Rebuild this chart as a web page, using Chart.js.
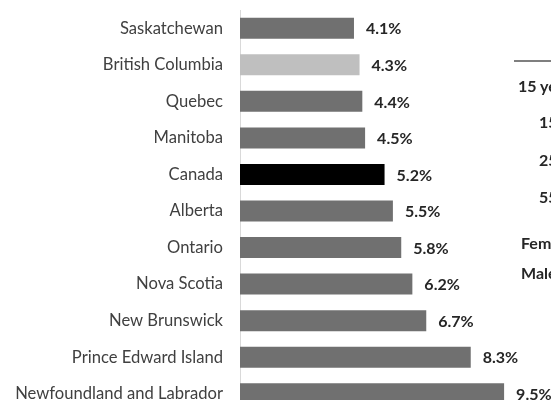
<!DOCTYPE html>
<html>
<head>
<meta charset="utf-8">
<script src="https://cdn.jsdelivr.net/npm/chart.js@4"></script>
<style>
  html, body { margin: 0; padding: 0; background: #fff; overflow: hidden; width: 551px; height: 400px; }
  #wrap { position: absolute; left: 0; top: 0; width: 551px; height: 430px; }
  .side { position: absolute; white-space: nowrap; font-family: Lato, sans-serif; font-weight: bold; font-size: 16px; line-height: 18px; color: #262626; }
  #rule { position: absolute; left: 514px; top: 60px; width: 40px; height: 0; border-top: 2px solid #7f7f7f; }
</style>
</head>
<body>
<div id="wrap"><canvas id="c" width="551" height="430"></canvas></div>
<div id="rule"></div>
<div class="side" style="left:518px; top:77px;">15 years and over</div>
<div class="side" style="left:539px; top:113px;">15 to 24 years</div>
<div class="side" style="left:539px; top:151px;">25 to 54 years</div>
<div class="side" style="left:539px; top:188px;">55 years and over</div>
<div class="side" style="left:521px; top:234px;">Female</div>
<div class="side" style="left:521px; top:264px;">Male</div>
<script>
const categories = ['Saskatchewan', 'British Columbia', 'Quebec', 'Manitoba', 'Canada', 'Alberta', 'Ontario', 'Nova Scotia', 'New Brunswick', 'Prince Edward Island', 'Newfoundland and Labrador'];
const values = [4.1, 4.3, 4.4, 4.5, 5.2, 5.5, 5.8, 6.2, 6.7, 8.3, 9.5];
const xMin = 0;
const xMax = 10;

const colorFor = (name) => name === 'Canada' ? '#000000' : (name === 'British Columbia' ? '#bfbfbf' : '#707070');

const valueLabels = {
  id: 'valueLabels',
  afterDatasetsDraw(chart) {
    const ctx = chart.ctx;
    const meta = chart.getDatasetMeta(0);
    ctx.save();
    ctx.font = 'bold 16px Lato, sans-serif';
    ctx.fillStyle = '#262626';
    ctx.textAlign = 'left';
    ctx.textBaseline = 'middle';
    meta.data.forEach((bar, i) => {
      ctx.fillText(values[i].toFixed(1) + '%', bar.x + 12, bar.y + 1);
    });
    ctx.restore();
  }
};

new Chart(document.getElementById('c'), {
  type: 'bar',
  data: {
    labels: categories,
    datasets: [{
      data: values,
      backgroundColor: categories.map(colorFor),
      borderWidth: 0,
      categoryPercentage: 1,
      barPercentage: 0.575
    }]
  },
  options: {
    indexAxis: 'y',
    responsive: false,
    animation: false,
    devicePixelRatio: 1,
    layout: { padding: { top: 10, bottom: 18, left: 0, right: 33 } },
    plugins: { legend: { display: false }, tooltip: { enabled: false } },
    scales: {
      x: { display: false, min: xMin, max: xMax },
      y: {
        grid: { display: false, drawTicks: false },
        border: { display: true, color: '#d9d9d9', width: 1 },
        ticks: { padding: 17, color: '#404040', font: { family: 'Lato, sans-serif', size: 16.6 } },
        afterFit(scale) { scale.width = 240; scale.paddingTop = 0; scale.paddingBottom = 0; }
      }
    }
  },
  plugins: [valueLabels]
});
</script>
</body>
</html>
